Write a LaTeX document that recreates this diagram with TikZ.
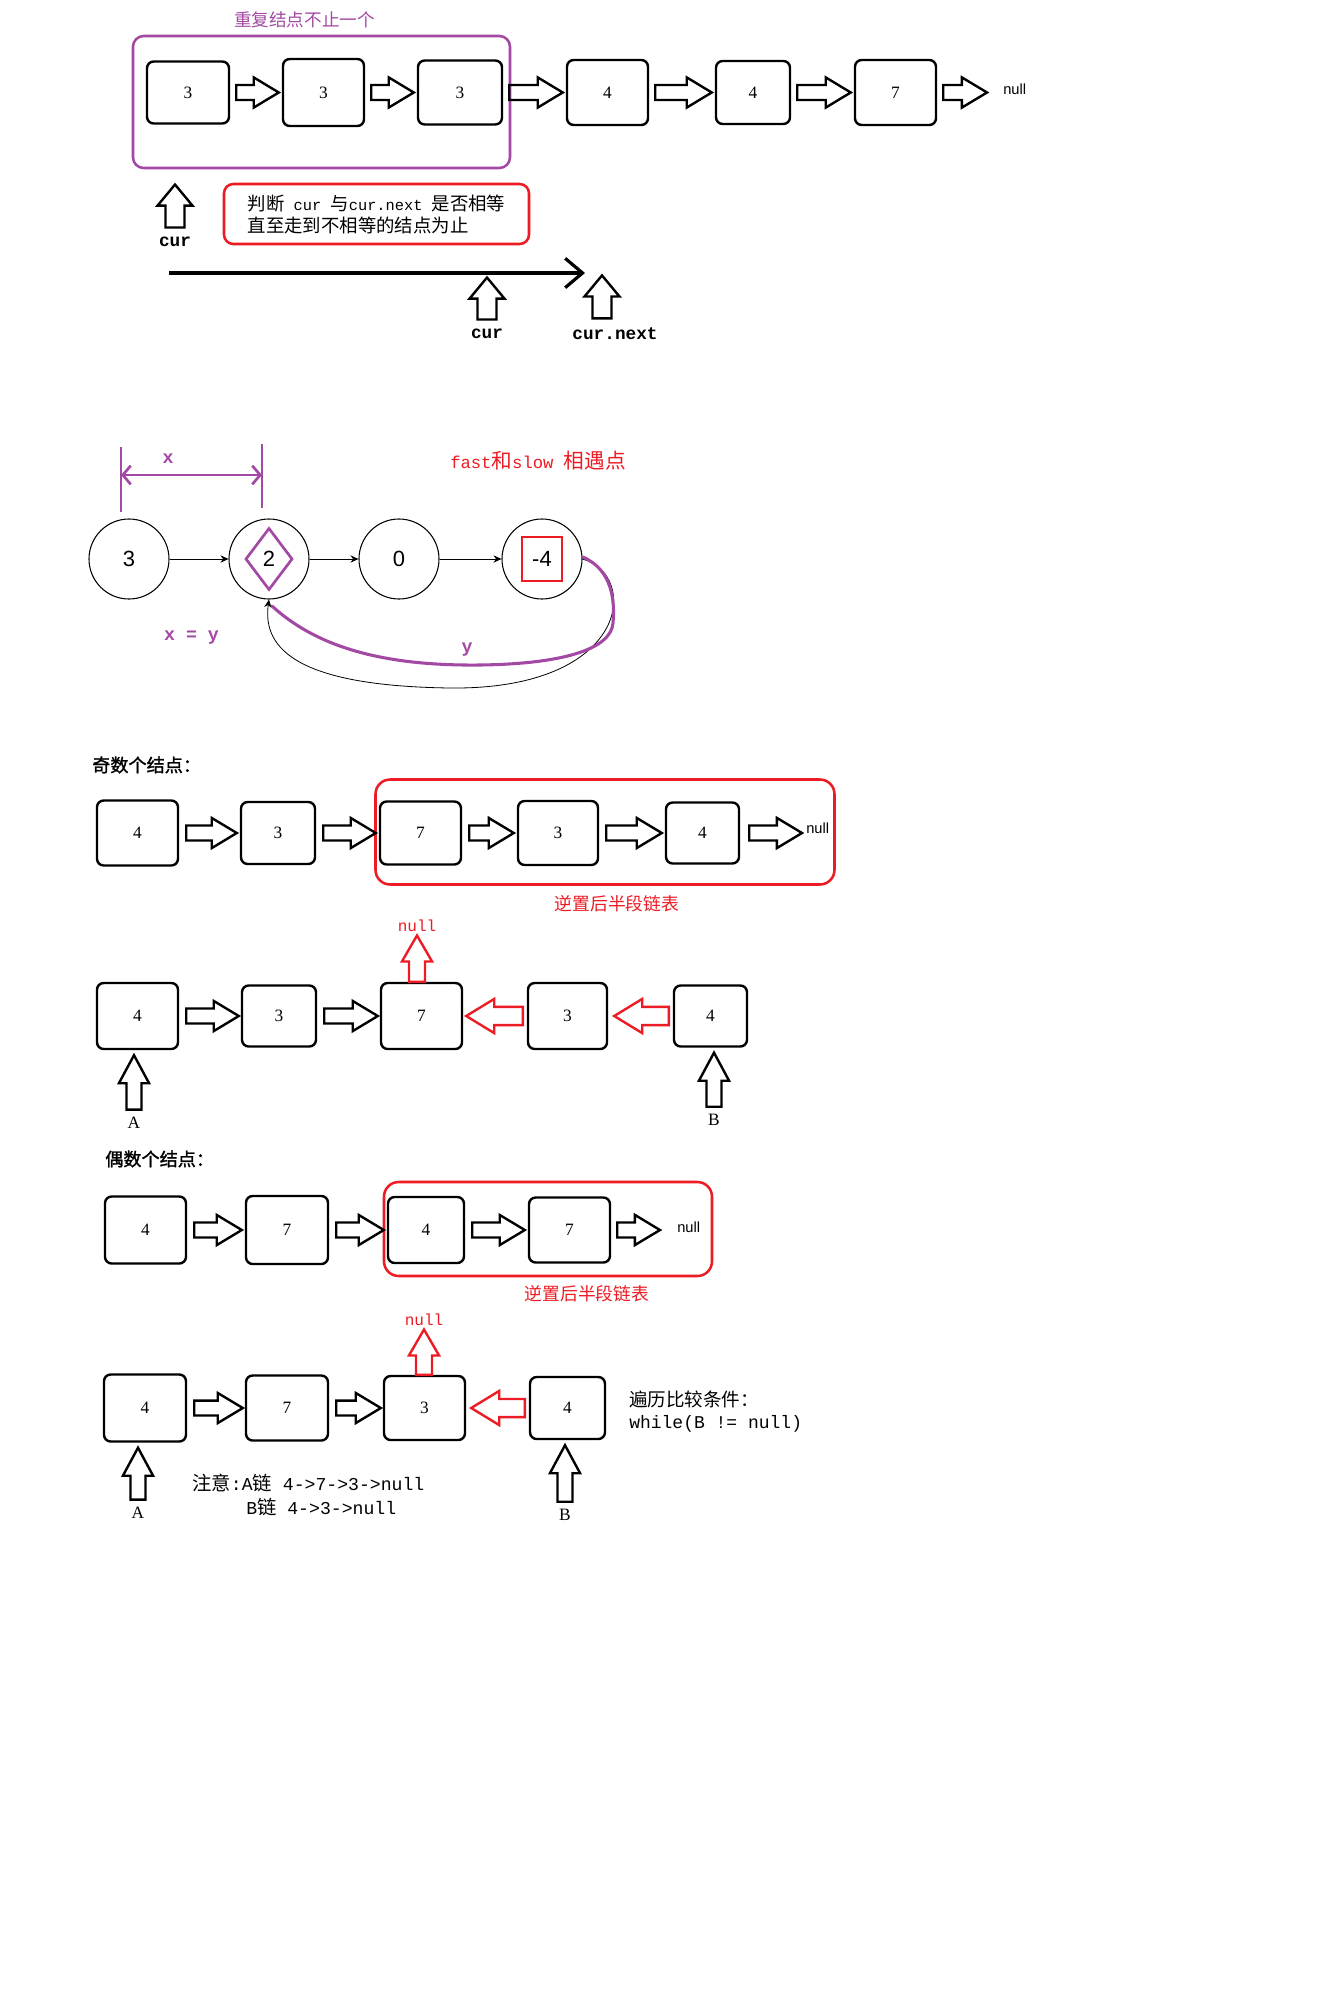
\documentclass[tikz,border=0pt]{standalone}
\usepackage{fontspec}
\setmainfont{Liberation Serif}
\setmonofont{Liberation Mono}
\newfontfamily\arialf{Liberation Sans}
\newfontfamily\cjk{Noto Sans CJK SC}
\newfontfamily\cjkbold[FakeBold=1.5]{Noto Sans CJK SC}
\usetikzlibrary{calc,arrows.meta}
\definecolor{ppurple}{HTML}{A349A4}
\definecolor{pred}{HTML}{ED1C24}
\newcommand{\zh}[2][13.8]{{\cjk\fontsize{#1}{#1}\selectfont #2}}

\tikzset{
  ba shaft/.store in=\bashaft, ba head/.store in=\bahead, ba len/.store in=\balen,
  ba shaft=5.6pt, ba head=11.3pt, ba len=18.8pt,
  redarr/.style={color=pred, ba shaft=6.8pt, ba head=12.8pt, ba len=21pt},
  redup/.style={color=pred, ba shaft=6pt, ba head=11.3pt, ba len=19.5pt},
  uparr/.style={ba shaft=5.6pt, ba head=11.3pt, ba len=21pt},
  curarr/.style={ba shaft=7.1pt, ba head=13.1pt, ba len=15.8pt},
  lbox/.style 2 args={draw, rounded corners=5pt, line width=1.8pt, inner sep=0pt,
    minimum width=#1*0.75pt, minimum height=#2*0.75pt, font=\fontsize{13}{15}\selectfont},
  grp/.style={draw=#1, rounded corners=8pt, line width=1.9pt, inner sep=0pt},
  ring/.style={draw, circle, line width=0.8pt, minimum size=60pt, inner sep=0pt,
    font=\arialf\fontsize{16.5}{18}\selectfont},
  nul/.style={anchor=west, inner sep=0pt, font=\arialf\fontsize{11}{13}\selectfont},
  rednul/.style={pred, inner sep=1pt, font=\ttfamily\fontsize{12}{14}\selectfont},
  ptr/.style={inner sep=1pt, font=\fontsize{13}{15}\selectfont},
  curlbl/.style={inner sep=1pt, font=\ttfamily\bfseries\fontsize{13.3}{15}\selectfont},
  pvar/.style={ppurple, inner sep=1pt, font=\ttfamily\bfseries\fontsize{13.7}{15}\selectfont},
  head/.style={anchor=west, inner sep=0pt, font=\cjkbold\fontsize{13.6}{15}\selectfont},
  revlbl/.style={pred, inner sep=0pt, font=\cjk\fontsize{13.3}{15}\selectfont},
}

\newcommand{\blockarrow}[3][]{%
  \begin{scope}[#1]
    \path #2 coordinate (ba-s) #3 coordinate (ba-t);
    \path ($(ba-t)!\balen!(ba-s)$) coordinate (ba-h);
    \draw[line width=1.8pt, line join=miter]
      ($(ba-s)!\bashaft!90:(ba-t)$) -- ($(ba-h)!\bashaft!90:(ba-t)$)
      -- ($(ba-h)!\bahead!90:(ba-t)$) -- (ba-t)
      -- ($(ba-h)!\bahead!-90:(ba-t)$) -- ($(ba-h)!\bashaft!-90:(ba-t)$)
      -- ($(ba-s)!\bashaft!-90:(ba-t)$) -- cycle;
  \end{scope}}

\begin{document}
\begin{tikzpicture}[x=0.75pt, y=-0.75pt]
  \fill[white] (0,0) rectangle (1335,2009);
  \useasboundingbox (0,0) rectangle (1335,2009);

  % duplicates
  \node[grp=ppurple, minimum width=377*0.75pt, minimum height=132*0.75pt] (dup) at (321.5,102) {};
  \node[ppurple, font=\cjk\fontsize{13.2}{15}\selectfont] (duplbl) at (304.5,20) {重复结点不止一个};
  \node[lbox={82}{62}] (b11) at (188,92.5) {3};
  \node[lbox={81}{67}] (b12) at (323.5,92.5) {3};
  \node[lbox={84}{64}] (b13) at (460,92.5) {3};
  \node[lbox={81}{65}] (b14) at (607.5,92.5) {4};
  \node[lbox={74}{63}] (b15) at (753,92.5) {4};
  \node[lbox={81}{65}] (b16) at (895.5,92.5) {7};
  \node[nul] (nl1) at (1003,89) {null};
  \foreach \a/\b in {b11/b12,b12/b13,b13/b14,b14/b15,b15/b16}
    \blockarrow{($(\a.east)+(6,0)$)}{($(\b.west)+(-3,0)$)};
  \blockarrow{($(b16.east)+(6,0)$)}{($(nl1.west |- b16.east)+(-16,0)$)};

  \node[grp=pred, rounded corners=7pt, minimum width=305*0.75pt, minimum height=60*0.75pt,
    align=left, font=\ttfamily\fontsize{11.5}{16.5}\selectfont] (note) at (376.5,214)
    {\zh{判断} cur \zh{与}cur.next \zh{是否相等}\\\zh{直至走到不相等的结点为止}};
  \node[curlbl] (cur1) at (175,242) {cur};
  \node[curlbl] (cur2) at (487,334) {cur};
  \node[curlbl] (curnext) at (615,334) {cur.next};
  \blockarrow[curarr]{($(cur1.north)+(0,-8)$)}{($(cur1.north)+(0,-51)$)};
  \blockarrow[curarr]{($(cur2.north)+(0,-8)$)}{($(cur2.north)+(0,-50)$)};
  \blockarrow[curarr]{($(curnext.north)+(-13,-8)$)}{($(curnext.north)+(-13,-51)$)};
  \coordinate (scan0) at (169,273);
  \coordinate (scan1) at (585,273);
  \draw[line width=2.4pt, -{Straight Barb[length=13pt,width=22pt]}] (scan0) -- (scan1);

  % cycle
  \node[ring] (c3) at (129,559) {3};
  \node[ring] (c2) at (269,559) {2};
  \node[ring] (c0) at (399,559) {0};
  \node[ring] (cm4) at (542,559) {-4};
  \foreach \a/\b in {c3/c2,c2/c0,c0/cm4}
    \draw[line width=0.6pt, -{Stealth[length=6pt,width=5.5pt]}] (\a) -- (\b);
  \draw[line width=0.6pt, -{Stealth[length=6pt,width=5.5pt]}] (cm4.east)
    .. controls (640,575) and (630,690) .. (450,688)
    .. controls (300,686) and (262,650) .. (c2.south);
  \draw[ppurple, line width=2pt] (c2) +(0,-30.5) -- +(23,0) -- +(0,30.5) -- +(-23,0) -- cycle;
  \draw[pred, line width=2pt] (cm4) +(-20,-22) rectangle +(20,22);
  \draw[ppurple, line width=2.3pt, line cap=round] (583,557)
    .. controls (612,570) and (615,600) .. (613,623)
    .. controls (611,650) and (560,664) .. (480,665)
    .. controls (390,666) and (320,650) .. (272,606);
  \draw[ppurple, line width=2pt] (121,447) -- (121,512) (262,444) -- (262,508);
  \coordinate (xl) at (121,475);
  \coordinate (xr) at (262,475);
  \draw[ppurple, line width=2pt, {Straight Barb[length=6pt,width=14pt]}-{Straight Barb[length=6pt,width=14pt]}] (xl) -- (xr);
  \node[pvar] (xlbl) at (168,459) {x};
  \node[pvar] (xeqy) at (191.5,638) {x = y};
  \node[pvar] (ylbl) at (467,650) {y};
  \node[pred, anchor=west, inner sep=0pt, font=\ttfamily\fontsize{12.9}{15}\selectfont] (meet) at (450,461)
    {fast\zh[15.5]{和}slow \zh[15.5]{相遇点}};

  % odd
  \node[head] (odd) at (92,765) {奇数个结点：};
  \node[grp=pred, rounded corners=11pt, minimum width=459*0.75pt, minimum height=105*0.75pt] (rev3) at (605,832) {};
  \node[revlbl] (rev3lbl) at (617,904) {逆置后半段链表};
  \node[lbox={81}{65}] (r3a) at (137.5,833) {4};
  \node[lbox={74}{62}] (r3b) at (278,833) {3};
  \node[lbox={81}{63}] (r3c) at (420.5,833) {7};
  \node[lbox={80}{64}] (r3d) at (558,833) {3};
  \node[lbox={73}{61}] (r3e) at (702.5,833) {4};
  \node[nul] (nl3) at (806,828) {null};
  \foreach \a/\b in {r3a/r3b,r3b/r3c,r3c/r3d,r3d/r3e}
    \blockarrow{($(\a.east)+(7,0)$)}{($(\b.west)+(-3,0)$)};
  \blockarrow{($(r3e.east)+(9,0)$)}{($(nl3.west |- r3e.east)+(-4,0)$)};

  \node[lbox={81}{66}] (r4a) at (137.5,1016) {4};
  \node[lbox={74}{61}] (r4b) at (279,1016) {3};
  \node[lbox={81}{66}] (r4c) at (421.5,1016) {7};
  \node[lbox={79}{66}] (r4d) at (567.5,1016) {3};
  \node[lbox={73}{61}] (r4e) at (710.5,1016) {4};
  \foreach \a/\b in {r4a/r4b,r4b/r4c}
    \blockarrow{($(\a.east)+(7,0)$)}{($(\b.west)+(-2,0)$)};
  \blockarrow[redarr]{($(r4d.west)+(-4,0)$)}{($(r4c.east)+(3,0)$)};
  \blockarrow[redarr]{($(r4e.west)+(-4,0)$)}{($(r4d.east)+(6,0)$)};
  \node[rednul] (n4) at (417,926) {null};
  \blockarrow[redup]{(n4 |- r4c.north)}{($(n4.south)+(0,2)$)};
  \node[ptr] (lA4) at (134,1123) {A};
  \node[ptr] (lB4) at (714,1120) {B};
  \blockarrow[uparr]{($(lA4.north)+(0,-6)$)}{($(lA4 |- r4a.south)+(0,5)$)};
  \blockarrow[uparr]{($(lB4.north)+(0,-6)$)}{($(lB4 |- r4e.south)+(0,5)$)};

  % even
  \node[head] (even) at (105,1159) {偶数个结点：};
  \node[grp=pred, rounded corners=11pt, minimum width=328*0.75pt, minimum height=94*0.75pt] (rev5) at (548,1229) {};
  \node[revlbl] (rev5lbl) at (587,1294) {逆置后半段链表};
  \node[lbox={81}{67}] (r5a) at (145.5,1230) {4};
  \node[lbox={82}{68}] (r5b) at (287,1230) {7};
  \node[lbox={76}{66}] (r5c) at (426,1230) {4};
  \node[lbox={81}{65}] (r5d) at (569.5,1230) {7};
  \node[nul] (nl5) at (677,1227) {null};
  \foreach \a/\b in {r5a/r5b,r5b/r5c,r5c/r5d}
    \blockarrow{($(\a.east)+(7,0)$)}{($(\b.west)+(-3,0)$)};
  \blockarrow{($(r5d.east)+(6,0)$)}{($(nl5.west |- r5d.east)+(-17,0)$)};

  \node[lbox={82}{67}] (r6a) at (145,1408) {4};
  \node[lbox={82}{65}] (r6b) at (287,1408) {7};
  \node[lbox={81}{64}] (r6c) at (424.5,1408) {3};
  \node[lbox={75}{62}] (r6d) at (567.5,1408) {4};
  \foreach \a/\b in {r6a/r6b,r6b/r6c}
    \blockarrow{($(\a.east)+(7,0)$)}{($(\b.west)+(-2,0)$)};
  \blockarrow[redarr]{($(r6d.west)+(-4,0)$)}{($(r6c.east)+(5,0)$)};
  \node[rednul] (n6) at (424,1320) {null};
  \blockarrow[redup]{(n6 |- r6c.north)}{($(n6.south)+(0,2)$)};
  \node[ptr] (lA6) at (138,1513) {A};
  \node[ptr] (lB6) at (565,1515) {B};
  \blockarrow[uparr]{($(lA6.north)+(0,-6)$)}{($(lA6 |- r6a.south)+(0,5)$)};
  \blockarrow[uparr]{($(lB6.north)+(0,-6)$)}{($(lB6 |- r6d.south)+(0,5)$)};

  \node[anchor=west, inner sep=0pt, font=\cjk\fontsize{13.9}{15}\selectfont] (cond) at (629,1399) {遍历比较条件：};
  \node[anchor=west, inner sep=0pt, font=\ttfamily\fontsize{13.5}{15}\selectfont] (loop) at (629,1424) {while(B != null)};
  \node[anchor=west, inner sep=0pt, font=\ttfamily\fontsize{13.6}{15}\selectfont] (notea) at (192,1483)
    {\zh[14.5]{注意}:A\zh[14.5]{链} 4->7->3->null};
  \node[anchor=west, inner sep=0pt, font=\ttfamily\fontsize{13.6}{15}\selectfont] (noteb) at (246,1507)
    {B\zh[14.5]{链} 4->3->null};
\end{tikzpicture}
\end{document}
